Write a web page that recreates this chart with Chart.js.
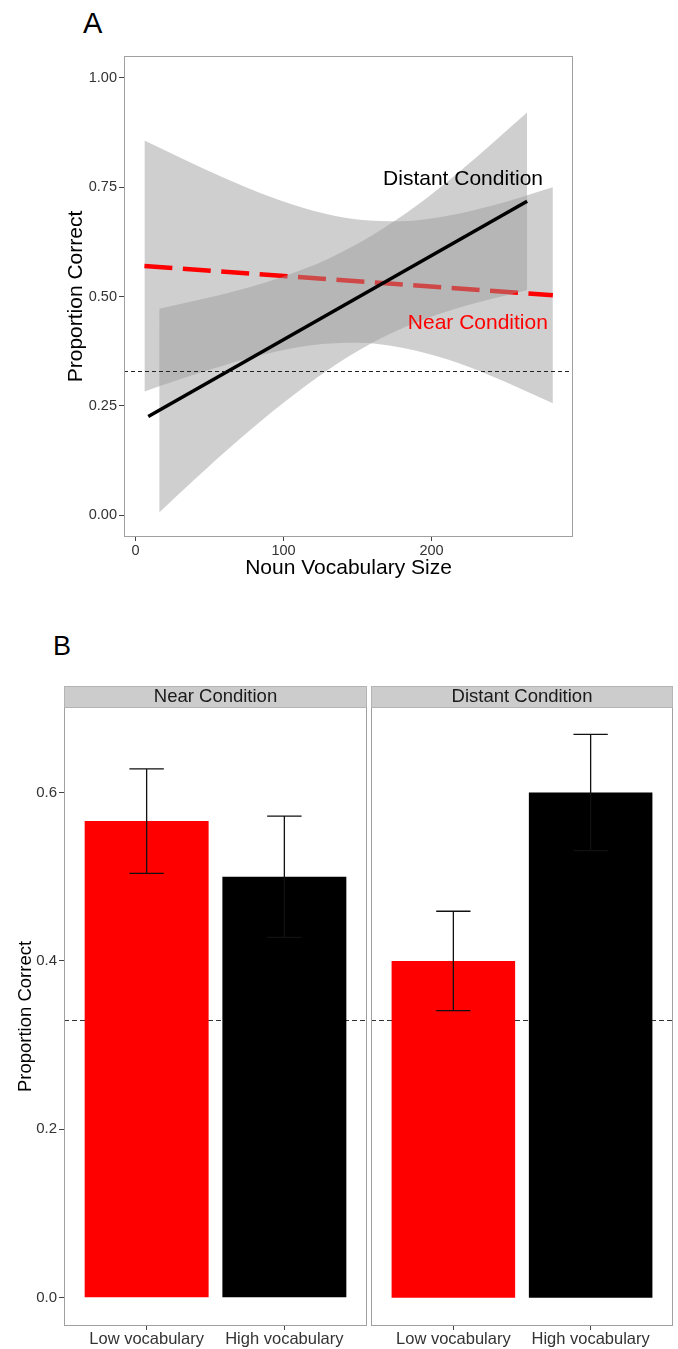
<!DOCTYPE html>
<html><head><meta charset="utf-8">
<script src="https://cdn.jsdelivr.net/npm/chart.js@4.4.1/dist/chart.umd.min.js"></script>
<style>
html,body{margin:0;padding:0;background:#fff;}
#wrap{position:relative;width:678px;height:1349px;overflow:hidden;font-family:"Liberation Sans",Arial,Helvetica,sans-serif;background:#fff;}
canvas{position:absolute;}
.tag{position:absolute;line-height:1;color:#000;}
</style></head><body>
<div id="wrap">
<div class="tag" style="left:83px;top:8.5px;font-size:29px;">A</div>
<div class="tag" style="left:53px;top:633px;font-size:27px;">B</div>
<canvas id="cA" width="678" height="600" style="left:0;top:0;"></canvas>
<canvas id="cBL" width="369" height="749" style="left:0;top:600px;"></canvas>
<canvas id="cBR" width="309" height="749" style="left:369px;top:600px;"></canvas>
</div>
<script>
// ---------- Data: panel A ----------
const CHANCE = 0.33;
const A_X_TICKS = [0, 100, 200];
const A_X_TICK_LABELS = ['0', '100', '200'];
const A_Y_TICKS = [0, 0.25, 0.5, 0.75, 1.0];
const A_Y_TICK_LABELS = ['0.00', '0.25', '0.50', '0.75', '1.00'];
const DISTANT_LINE_X = [8.6, 264.6];
const DISTANT_LINE_Y = [0.2255, 0.718];
const DISTANT_BAND_X = [16, 40, 70, 100, 130, 160, 190, 220, 264.6];
const DISTANT_BAND_HI = [0.472, 0.490, 0.515, 0.546, 0.586, 0.640, 0.708, 0.789, 0.921];
const DISTANT_BAND_LO = [0.006, 0.082, 0.173, 0.257, 0.332, 0.394, 0.441, 0.476, 0.515];
const NEAR_LINE_X = [6, 282];
const NEAR_LINE_Y = [0.570, 0.503];
const NEAR_BAND_X = [6, 30, 60, 90, 120, 150, 180, 210, 240, 282];
const NEAR_BAND_HI = [0.857, 0.818, 0.771, 0.729, 0.696, 0.676, 0.672, 0.684, 0.707, 0.750];
const NEAR_BAND_LO = [0.283, 0.311, 0.343, 0.370, 0.389, 0.394, 0.383, 0.357, 0.319, 0.256];
const A_LABELS = ['Distant Condition', 'Near Condition'];
const A_LABEL_X = [221.3, 231.3];
const A_LABEL_Y = [0.768, 0.439];

// ---------- Data: panel B ----------
const CONDITIONS = ['Near Condition', 'Distant Condition'];
const VOCAB_GROUPS = ['Low vocabulary', 'High vocabulary'];
const VOCAB_POS = [1, 2];
const NEAR_MEAN = [0.566, 0.500];
const NEAR_SE = [0.062, 0.072];
const DISTANT_MEAN = [0.400, 0.600];
const DISTANT_SE = [0.059, 0.069];
const B_Y_TICKS = [0, 0.2, 0.4, 0.6];
const B_Y_TICK_LABELS = ['0.0', '0.2', '0.4', '0.6'];

// ---------- helpers ----------
const FAM = "'Liberation Sans', Arial, Helvetica, sans-serif";
Chart.defaults.font.family = FAM;
const pts = (xs, ys) => xs.map((x, i) => ({x: x, y: ys[i]}));
const BORDER = '#a0a0a0';
const TICKCOL = '#444';
const TEXTCOL = '#333';

function drawHLine(chart, value, dash, color) {
  const {ctx, chartArea, scales} = chart;
  const y = Math.round(scales.y.getPixelForValue(value)) + 0.5;
  ctx.save();
  ctx.strokeStyle = color;
  ctx.lineWidth = 1;
  ctx.setLineDash(dash);
  ctx.beginPath();
  ctx.moveTo(chartArea.left, y);
  ctx.lineTo(chartArea.right, y);
  ctx.stroke();
  ctx.restore();
}
function drawFrame(chart) {
  const {ctx, chartArea: a} = chart;
  ctx.save();
  ctx.strokeStyle = BORDER;
  ctx.lineWidth = 1;
  ctx.strokeRect(a.left + 0.5, a.top + 0.5, a.right - a.left - 1, a.bottom - a.top - 1);
  ctx.restore();
}

// ---------- Panel A ----------
const aPlugin = {
  id: 'aDecor',
  afterDatasetsDraw(chart) {
    drawHLine(chart, CHANCE, [4, 3], '#222');
    const {ctx, scales} = chart;
    const cols = ['#000000', '#ff0000'];
    ctx.save();
    ctx.font = '21px ' + FAM;
    ctx.textAlign = 'center';
    ctx.textBaseline = 'middle';
    A_LABELS.forEach((t, i) => {
      ctx.fillStyle = cols[i];
      ctx.fillText(t, scales.x.getPixelForValue(A_LABEL_X[i]), scales.y.getPixelForValue(A_LABEL_Y[i]));
    });
    ctx.restore();
    drawFrame(chart);
  }
};

const BAND_FILL = 'rgba(153,153,153,0.47)';
new Chart(document.getElementById('cA'), {
  type: 'line',
  data: {
    datasets: [
      {data: pts(DISTANT_LINE_X, DISTANT_LINE_Y), borderColor: '#000', borderWidth: 3.5, pointRadius: 0, fill: false, order: 0, borderCapStyle: 'butt'},
      {data: pts(DISTANT_BAND_X, DISTANT_BAND_HI), borderColor: 'rgba(0,0,0,0)', borderWidth: 0, backgroundColor: BAND_FILL, fill: '+1', pointRadius: 0, cubicInterpolationMode: 'monotone', order: 1},
      {data: pts(DISTANT_BAND_X, DISTANT_BAND_LO), borderColor: 'rgba(0,0,0,0)', borderWidth: 0, fill: false, pointRadius: 0, cubicInterpolationMode: 'monotone', order: 2},
      {data: pts(NEAR_LINE_X, NEAR_LINE_Y), borderColor: '#ff0000', borderWidth: 4.5, borderDash: [28, 10.5], pointRadius: 0, fill: false, order: 3, borderCapStyle: 'butt'},
      {data: pts(NEAR_BAND_X, NEAR_BAND_HI), borderColor: 'rgba(0,0,0,0)', borderWidth: 0, backgroundColor: BAND_FILL, fill: '+1', pointRadius: 0, cubicInterpolationMode: 'monotone', order: 4},
      {data: pts(NEAR_BAND_X, NEAR_BAND_LO), borderColor: 'rgba(0,0,0,0)', borderWidth: 0, fill: false, pointRadius: 0, cubicInterpolationMode: 'monotone', order: 5}
    ]
  },
  options: {
    responsive: false, animation: false, events: [],
    layout: {padding: {left: 0, right: 105, top: 56, bottom: 0}},
    plugins: {legend: {display: false}, tooltip: {enabled: false}},
    scales: {
      x: {
        type: 'linear', min: -7.8, max: 295.6,
        afterBuildTicks: s => { s.ticks = A_X_TICKS.map(v => ({value: v})); },
        afterFit: s => { s.height = 63; },
        ticks: {callback: (v, i) => A_X_TICK_LABELS[i], color: TEXTCOL, font: {size: 14.5}, padding: 1, autoSkip: false, maxRotation: 0, minRotation: 0},
        grid: {display: true, drawOnChartArea: false, drawTicks: true, tickLength: 4, tickColor: TICKCOL, tickWidth: 1},
        border: {display: false},
        title: {display: true, text: 'Noun Vocabulary Size', color: '#000', font: {size: 21}, padding: {top: 0, bottom: 19}}
      },
      y: {
        type: 'linear', min: -0.05, max: 1.05,
        afterBuildTicks: s => { s.ticks = A_Y_TICKS.map(v => ({value: v})); },
        afterFit: s => { s.width = 124; },
        ticks: {callback: (v, i) => A_Y_TICK_LABELS[i], color: TEXTCOL, font: {size: 14.5}, padding: 2},
        grid: {display: true, drawOnChartArea: false, drawTicks: true, tickLength: 5, tickColor: TICKCOL, tickWidth: 1},
        border: {display: false},
        title: {display: true, text: 'Proportion Correct', color: '#000', font: {size: 21}, padding: {top: 63.5, bottom: 0}}
      }
    }
  },
  plugins: [aPlugin]
});

// ---------- Panel B ----------
const ERR_CAP = 0.25;
function facetPlugin(title, means, ses) {
  return {
    id: 'facet',
    beforeDatasetsDraw(chart) {
      drawHLine(chart, CHANCE, [5, 3], '#333');
    },
    afterDatasetsDraw(chart) {
      const {ctx, scales: {x, y}} = chart;
      ctx.save();
      ctx.strokeStyle = '#111';
      ctx.lineWidth = 1.3;
      VOCAB_POS.forEach((p, i) => {
        const cx = x.getPixelForValue(p);
        const hw = x.getPixelForValue(p + ERR_CAP / 2) - cx;
        const yt = y.getPixelForValue(means[i] + ses[i]);
        const yb = y.getPixelForValue(means[i] - ses[i]);
        ctx.beginPath();
        ctx.moveTo(cx, yt); ctx.lineTo(cx, yb);
        ctx.moveTo(cx - hw, yt); ctx.lineTo(cx + hw, yt);
        ctx.moveTo(cx - hw, yb); ctx.lineTo(cx + hw, yb);
        ctx.stroke();
      });
      ctx.restore();
      drawFrame(chart);
      const a = chart.chartArea;
      ctx.save();
      ctx.fillStyle = '#cccccc';
      ctx.fillRect(a.left, a.top - 21, a.right - a.left, 21);
      ctx.strokeStyle = '#b4b4b4';
      ctx.lineWidth = 1;
      ctx.strokeRect(a.left + 0.5, a.top - 20.5, a.right - a.left - 1, 21);
      ctx.fillStyle = '#1a1a1a';
      ctx.font = '18.5px ' + FAM;
      ctx.textAlign = 'center';
      ctx.textBaseline = 'middle';
      ctx.fillText(title, (a.left + a.right) / 2, a.top - 10);
      ctx.restore();
    }
  };
}

function facetChart(id, title, means, ses, showY, padL, padR) {
  return new Chart(document.getElementById(id), {
    type: 'bar',
    data: {
      datasets: [{
        data: pts(VOCAB_POS, means),
        backgroundColor: ['#ff0000', '#000000'],
        borderWidth: 0,
        categoryPercentage: 1,
        barPercentage: 0.9
      }]
    },
    options: {
      responsive: false, animation: false, events: [],
      layout: {padding: {left: padL, right: padR, top: 107, bottom: 0}},
      plugins: {legend: {display: false}, tooltip: {enabled: false}},
      scales: {
        x: {
          type: 'linear', min: 0.4, max: 2.6, offset: false,
          afterBuildTicks: s => { s.ticks = VOCAB_POS.map(v => ({value: v})); },
          afterFit: s => { s.height = 23; },
          ticks: {callback: (v, i) => VOCAB_GROUPS[i], color: TEXTCOL, font: {size: 16.5}, padding: 0, autoSkip: false, maxRotation: 0, minRotation: 0},
          grid: {display: true, offset: false, drawOnChartArea: false, drawTicks: true, tickLength: 4, tickColor: TICKCOL, tickWidth: 1},
          border: {display: false}
        },
        y: {
          type: 'linear', min: -0.0335, max: 0.7015, display: showY,
          afterBuildTicks: s => { s.ticks = B_Y_TICKS.map(v => ({value: v})); },
          afterFit: s => { s.width = showY ? 64 : 0; },
          ticks: {callback: (v, i) => B_Y_TICK_LABELS[i], color: TEXTCOL, font: {size: 15}, padding: 2},
          grid: {display: true, drawOnChartArea: false, drawTicks: true, tickLength: 5, tickColor: TICKCOL, tickWidth: 1},
          border: {display: false},
          title: {display: showY, text: 'Proportion Correct', color: '#000', font: {size: 18.5}, padding: {top: 14.5, bottom: 0}}
        }
      }
    },
    plugins: [facetPlugin(title, means, ses)]
  });
}

facetChart('cBL', CONDITIONS[0], NEAR_MEAN, NEAR_SE, true, 0, 2);
facetChart('cBR', CONDITIONS[1], DISTANT_MEAN, DISTANT_SE, false, 2, 5);
</script>
</body></html>
